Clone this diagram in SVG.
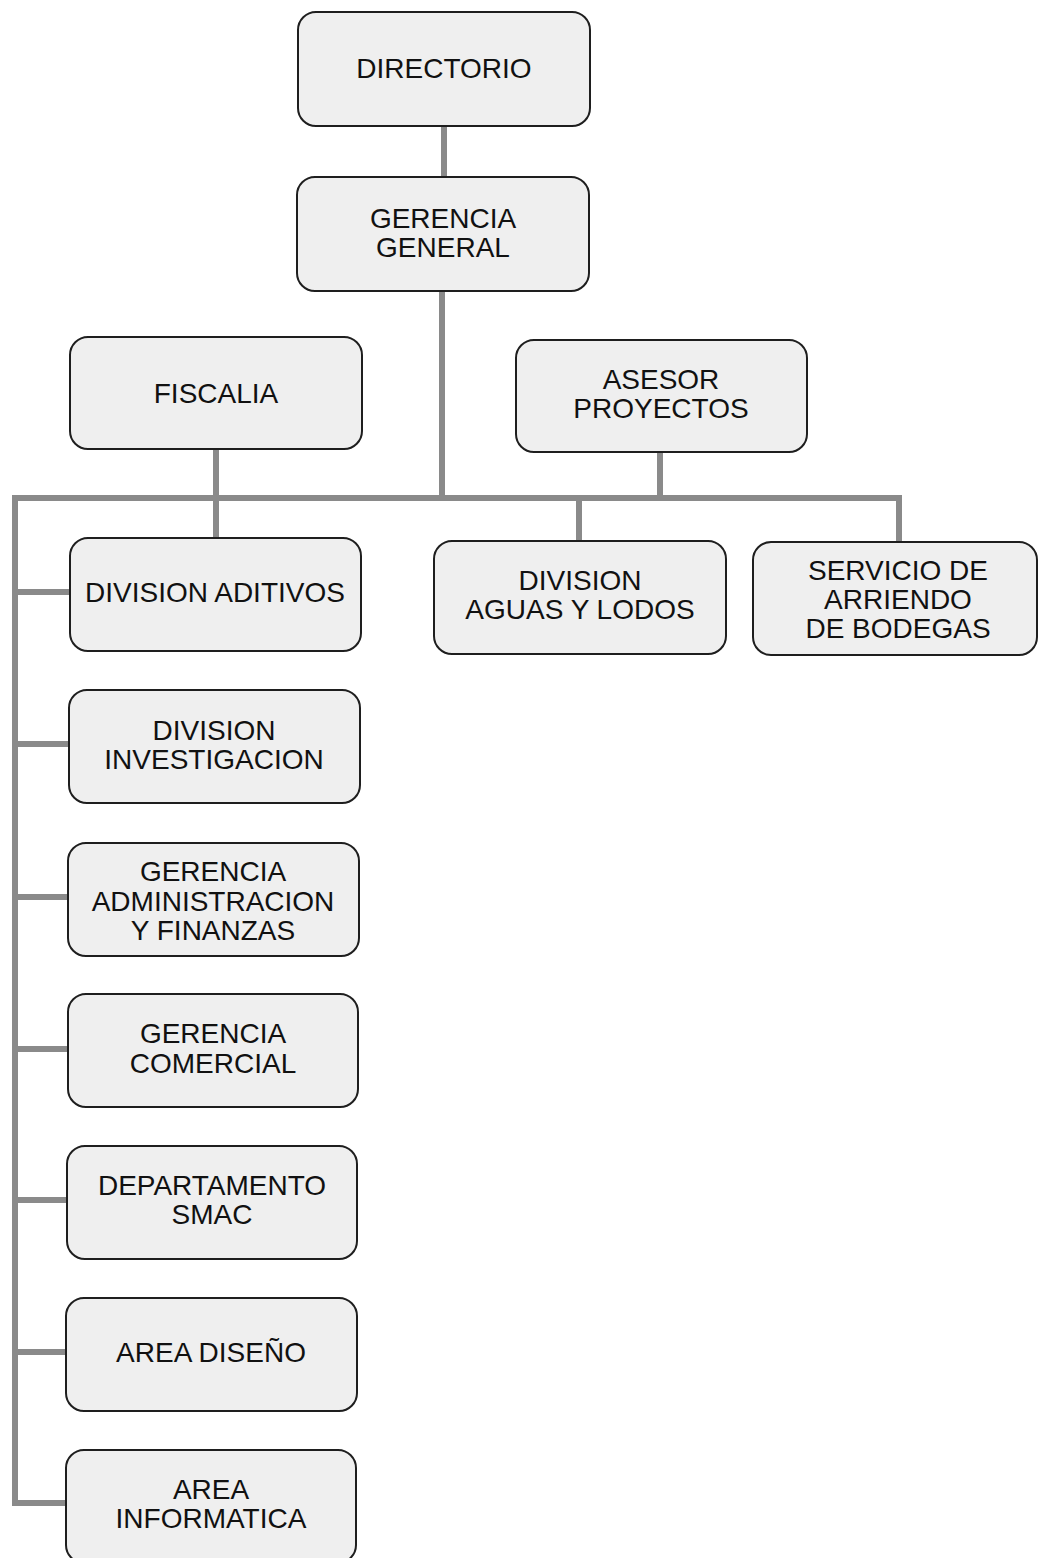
<svg xmlns="http://www.w3.org/2000/svg" width="1038" height="1558" viewBox="0 0 1038 1558">
<style>
.box{fill:#efefef;stroke:#1e1e1e;stroke-width:2}
.t{font-family:"Liberation Sans",Arial,sans-serif;font-size:28px;fill:#111111;text-anchor:middle}
.c{stroke:#8a8a8a;stroke-width:6;fill:none;stroke-linecap:butt;stroke-linejoin:miter}
</style>
<rect width="1038" height="1558" fill="#ffffff"/>
<g id="connectors">
<path class="c" d="M444 126V177"/>
<path class="c" d="M442 291V498"/>
<path class="c" d="M216 449V538"/>
<path class="c" d="M660 452V498"/>
<path class="c" d="M66 1503H15V498H899V542"/>
<path class="c" d="M579 498V541"/>
<path class="c" d="M15 592H70"/>
<path class="c" d="M15 744H69"/>
<path class="c" d="M15 897H68"/>
<path class="c" d="M15 1049H68"/>
<path class="c" d="M15 1200H67"/>
<path class="c" d="M15 1352H66"/>
</g>
<g id="directorio"><rect class="box" x="298" y="12" width="292" height="114" rx="18"/><text class="t" x="444" y="78">DIRECTORIO</text></g>
<g id="gerencia-general"><rect class="box" x="297" y="177" width="292" height="114" rx="18"/><text class="t" x="443" y="228">GERENCIA</text><text class="t" x="443" y="257">GENERAL</text></g>
<g id="fiscalia"><rect class="box" x="70" y="337" width="292" height="112" rx="18"/><text class="t" x="216" y="403">FISCALIA</text></g>
<g id="asesor-proyectos"><rect class="box" x="516" y="340" width="291" height="112" rx="18"/><text class="t" x="661" y="389">ASESOR</text><text class="t" x="661" y="418">PROYECTOS</text></g>
<g id="division-aditivos"><rect class="box" x="70" y="538" width="291" height="113" rx="18"/><text class="t" x="215" y="602">DIVISION ADITIVOS</text></g>
<g id="division-aguas"><rect class="box" x="434" y="541" width="292" height="113" rx="18"/><text class="t" x="580" y="590">DIVISION</text><text class="t" x="580" y="619">AGUAS Y LODOS</text></g>
<g id="servicio-arriendo"><rect class="box" x="753" y="542" width="284" height="113" rx="18"/><text class="t" x="898" y="580">SERVICIO DE</text><text class="t" x="898" y="609">ARRIENDO</text><text class="t" x="898" y="638">DE BODEGAS</text></g>
<g id="division-investigacion"><rect class="box" x="69" y="690" width="291" height="113" rx="18"/><text class="t" x="214" y="740">DIVISION</text><text class="t" x="214" y="769">INVESTIGACION</text></g>
<g id="gerencia-administracion"><rect class="box" x="68" y="843" width="291" height="113" rx="18"/><text class="t" x="213" y="881">GERENCIA</text><text class="t" x="213" y="911">ADMINISTRACION</text><text class="t" x="213" y="940">Y FINANZAS</text></g>
<g id="gerencia-comercial"><rect class="box" x="68" y="994" width="290" height="113" rx="18"/><text class="t" x="213" y="1043">GERENCIA</text><text class="t" x="213" y="1073">COMERCIAL</text></g>
<g id="departamento-smac"><rect class="box" x="67" y="1146" width="290" height="113" rx="18"/><text class="t" x="212" y="1195">DEPARTAMENTO</text><text class="t" x="212" y="1224">SMAC</text></g>
<g id="area-diseno"><rect class="box" x="66" y="1298" width="291" height="113" rx="18"/><text class="t" x="211" y="1362">AREA DISEÑO</text></g>
<g id="area-informatica"><rect class="box" x="66" y="1450" width="290" height="113" rx="18"/><text class="t" x="211" y="1499">AREA</text><text class="t" x="211" y="1528">INFORMATICA</text></g>
</svg>
